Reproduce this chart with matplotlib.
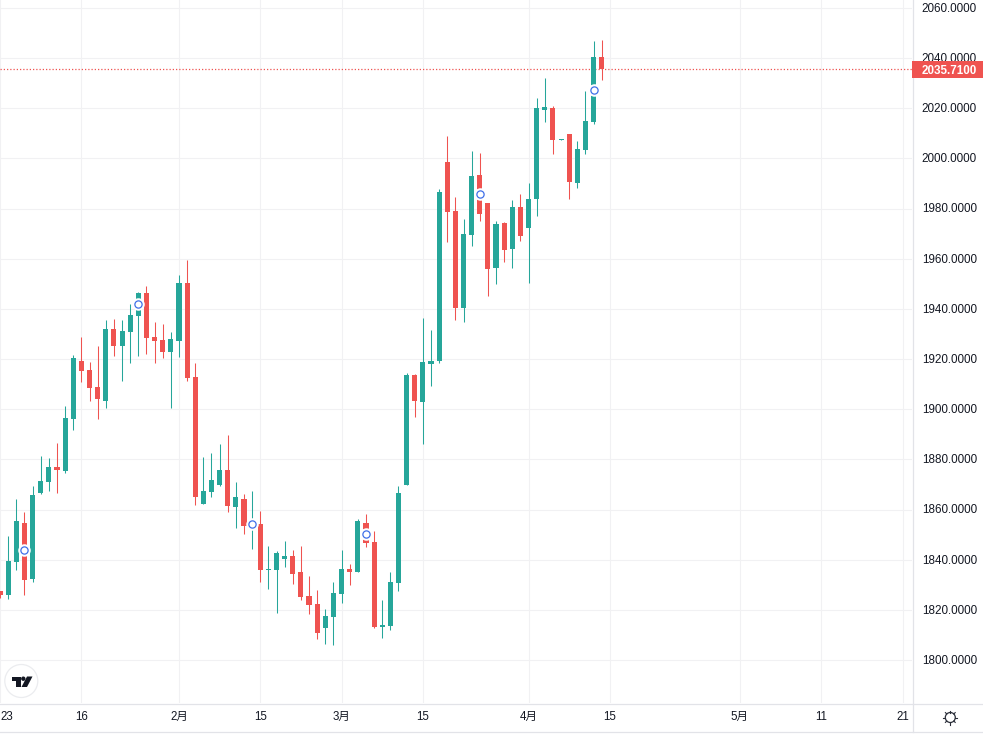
import matplotlib
matplotlib.use('Agg')
import matplotlib.pyplot as plt
from matplotlib.patches import Circle, Polygon, Rectangle
from matplotlib.lines import Line2D
from matplotlib.transforms import Affine2D, ScaledTranslation

plt.rcParams['font.family'] = ['Liberation Sans', 'Noto Sans CJK SC']

opens = [1827.4, 1825.8, 1839.3, 1854.5, 1832.5, 1866.8, 1871.2, 1876.8, 1875.2, 1896.3,
         1919.1, 1915.5, 1908.7, 1903.5, 1932.2, 1925.4, 1931.0, 1937.0, 1946.2, 1929.0,
         1927.8, 1922.7, 1927.4, 1950.2, 1912.7, 1862.1, 1867.2, 1870.0, 1875.6, 1860.9,
         1864.4, 1853.3, 1854.1, 1835.8, 1836.1, 1840.5, 1841.3, 1835.0, 1825.4, 1822.2,
         1812.6, 1817.0, 1826.2, 1836.5, 1835.3, 1854.5, 1846.9, 1813.0, 1813.4, 1830.6,
         1870.0, 1913.5, 1903.1, 1917.9, 1919.1, 1998.4, 1978.9, 1940.2, 1969.3, 1993.6,
         1982.1, 1956.2, 1974.1, 1964.1, 1980.5, 1972.1, 1984.0, 2019.5, 2020.3, 2007.2,
         2009.6, 1990.4, 2003.2, 2014.4, 2040.3]
highs = [1827.4, 1849.3, 1864.4, 1858.9, 1869.6, 1881.2, 1880.4, 1886.4, 1901.5, 1921.5,
         1929.0, 1918.7, 1925.4, 1935.4, 1935.8, 1935.4, 1941.8, 1946.6, 1949.0, 1935.0,
         1934.2, 1931.0, 1953.4, 1959.6, 1918.3, 1880.8, 1882.4, 1886.0, 1889.6, 1871.2,
         1866.4, 1867.6, 1859.3, 1845.3, 1843.3, 1847.3, 1843.7, 1845.3, 1833.4, 1827.8,
         1820.2, 1831.0, 1843.7, 1838.5, 1856.1, 1858.1, 1851.3, 1823.8, 1835.0, 1869.6,
         1914.3, 1913.9, 1936.2, 1931.8, 1987.7, 2008.8, 1984.5, 1975.7, 2002.8, 2002.0,
         1982.1, 1974.9, 1974.5, 1983.3, 1986.0, 1990.4, 2024.3, 2031.9, 2021.1, 2007.6,
         2009.6, 2006.8, 2027.1, 2046.7, 2047.1]
lows = [1824.6, 1824.2, 1836.1, 1825.8, 1831.3, 1866.4, 1867.6, 1866.8, 1874.4, 1891.9,
        1910.7, 1903.5, 1896.3, 1900.7, 1921.1, 1911.1, 1918.3, 1921.1, 1921.9, 1918.3,
        1920.3, 1900.7, 1920.7, 1911.1, 1861.7, 1862.1, 1865.2, 1869.6, 1858.9, 1852.5,
        1850.1, 1844.1, 1831.0, 1828.2, 1818.6, 1837.0, 1830.2, 1823.8, 1818.2, 1808.6,
        1806.6, 1806.2, 1822.6, 1829.8, 1835.0, 1844.9, 1812.6, 1809.0, 1811.8, 1827.4,
        1870.0, 1896.8, 1886.0, 1909.1, 1918.3, 1966.5, 1935.4, 1935.0, 1965.3, 1974.9,
        1945.0, 1949.8, 1958.9, 1956.2, 1966.9, 1950.2, 1976.9, 2014.4, 2001.6, 2007.2,
        1983.7, 1988.4, 2001.6, 2013.6, 2031.1]
closes = [1825.8, 1839.7, 1855.3, 1832.1, 1866.0, 1871.6, 1876.8, 1875.6, 1896.7, 1920.3,
          1915.1, 1908.3, 1903.9, 1932.2, 1925.4, 1931.4, 1937.4, 1946.2, 1928.6, 1927.4,
          1922.7, 1928.2, 1950.2, 1912.3, 1865.2, 1867.6, 1872.0, 1875.6, 1861.3, 1865.2,
          1853.3, 1854.9, 1835.8, 1836.5, 1842.5, 1841.3, 1834.5, 1825.0, 1821.8, 1810.6,
          1817.4, 1826.6, 1836.5, 1835.3, 1855.3, 1846.5, 1813.0, 1813.8, 1831.0, 1866.8,
          1913.5, 1903.5, 1918.7, 1919.1, 1986.5, 1978.5, 1940.2, 1969.7, 1993.2, 1977.7,
          1955.8, 1973.7, 1963.7, 1980.5, 1968.9, 1984.0, 2020.3, 2020.7, 2007.2, 2007.6,
          1990.8, 2003.6, 2014.8, 2040.3, 2035.71]

marker_idx = [3, 17, 31, 45, 59, 73]
marker_price = [1843.7, 1941.8, 1854.1, 1850.3, 1986.0, 2027.5]

price_ticks = list(range(1800, 2080, 20))
date_ticks = [0, 10, 22, 32, 42, 52, 65, 75, 91, 101, 111]
date_labels = ['23', '16', '2月', '15', '3月', '15', '4月', '15', '5月', '11', '21']
last_price = 2035.71

UP = '#26a69a'
DOWN = '#ef5350'
GRID = '#f1f1f3'
BORDER = '#e2e3e8'
TEXT = '#131722'

W, H = 983, 737
BAR_STEP = 8.13
PX_PER_UNIT = 2.508

fig = plt.figure(figsize=(W / 100, H / 100), dpi=100, facecolor='white')
ax = fig.add_axes([0, (H - 703) / H, 912 / W, 703 / H])
ax.set_zorder(5)
ax.patch.set_visible(False)
for s in ax.spines.values():
    s.set_visible(False)

ax.set_axisbelow(True)
ax.grid(True, color=GRID, lw=0.8)

ax.yaxis.tick_right()
ax.set_yticks(price_ticks)
ax.set_yticklabels([f'{p:.4f}' for p in price_ticks])
ax.set_xticks(date_ticks)
ax.set_xticklabels(date_labels)
ax.tick_params(axis='y', length=0, pad=7, labelsize=8.4, labelcolor=TEXT)
ax.tick_params(axis='x', length=0, pad=5.5, labelsize=8.3, labelcolor=TEXT)
ax.get_xticklabels()[0].set_ha('left')

xs = list(range(len(opens)))
colors = [UP if c >= o else DOWN for o, c in zip(opens, closes)]
ax.vlines(xs, lows, highs, colors=colors, lw=0.75, zorder=3, snap=True)
ax.bar(xs, [abs(c - o) for o, c in zip(opens, closes)], bottom=[min(o, c) for o, c in zip(opens, closes)],
       width=5.1 / BAR_STEP, color=colors, lw=0, zorder=3)

ax.plot(marker_idx, marker_price, ls='none', marker='o', ms=8, mfc='white', mec='white', zorder=4)
ax.plot(marker_idx, marker_price, ls='none', marker='o', ms=5.2, mfc='white', mec='#3f6fe8', mew=0.9, zorder=5)

# last price line and label
ax.axhline(last_price, color=DOWN, lw=0.9, ls=(0, (1, 1.6)), zorder=2)
trans = ax.get_yaxis_transform()
ax.add_patch(Rectangle((1, last_price - 9 / PX_PER_UNIT), 71 / 912, 17 / PX_PER_UNIT, transform=trans,
                       color=DOWN, lw=0, clip_on=False, zorder=6))
ax.text(1 + 10 / 912, last_price - 0.5 / PX_PER_UNIT, f'{last_price:.4f}', transform=trans, color='white',
        fontsize=8.4, fontweight='bold', va='center_baseline', ha='left', zorder=7)

ax.set_xlim(-0.1 / BAR_STEP, 911.9 / BAR_STEP)
ax.set_ylim(2060 - 695 / PX_PER_UNIT, 2060 + 8 / PX_PER_UNIT)

# price labels sit a bit above their grid lines
nudge = ScaledTranslation(0, 0.7 / 100, fig.dpi_scale_trans)
for lab in ax.get_yticklabels():
    lab.set_transform(lab.get_transform() + nudge)

# borders and decorations, in pixels from the top left
px = Affine2D().scale(1, -1).translate(0, H)
for x0, y0, x1, y1 in [(0, 703.5, W, 703.5), (0, 731.5, W, 731.5), (912.5, 0, 912.5, 731.5)]:
    fig.add_artist(Line2D([x0, x1], [y0, y1], color=BORDER, lw=0.9, transform=px))

fig.add_artist(Circle((21.3, 681), 16.5, fc='white', ec='#ebecef', lw=0.9, transform=px, zorder=8))
logo = '#131722'
fig.add_artist(Polygon([(11.5, 676.5), (20.5, 676.5), (20.5, 687), (16, 687), (16, 681), (11.5, 681)],
                       closed=True, fc=logo, ec='none', transform=px, zorder=9))
fig.add_artist(Circle((23.3, 678.7), 2.2, fc=logo, ec='none', transform=px, zorder=9))
fig.add_artist(Polygon([(27, 676.5), (32.5, 676.5), (27, 687), (21.5, 687)],
                       closed=True, fc=logo, ec='none', transform=px, zorder=9))

fig.add_artist(Circle((950.3, 717.5), 5, fc='white', ec='#2a2e39', lw=0.9, transform=px, zorder=8))
for dx, dy in [(0, -1), (0, 1), (-1, 0), (1, 0), (0.7, 0.7), (-0.7, 0.7), (0.7, -0.7), (-0.7, -0.7)]:
    fig.add_artist(Line2D([950.3 + 5 * dx, 950.3 + 7 * dx], [717.5 + 5 * dy, 717.5 + 7 * dy],
                          color='#2a2e39', lw=0.8, transform=px, zorder=8))

fig.savefig('out.png', dpi=100)
